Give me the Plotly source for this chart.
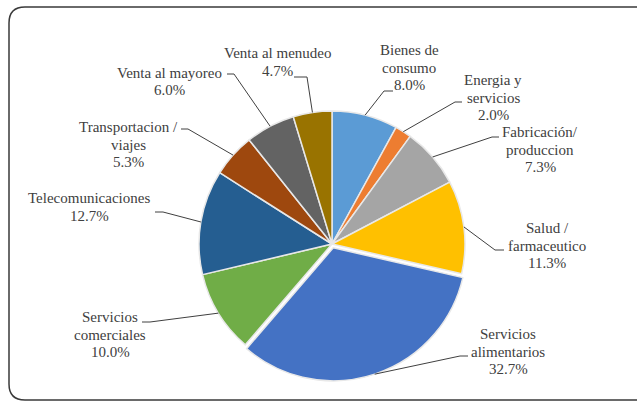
import math
import plotly.graph_objects as go

# ---- data ----
categories = ["Bienes de consumo", "Energia y servicios", "Fabricación/ produccion",
              "Salud / farmaceutico", "Servicios alimentarios", "Servicios comerciales",
              "Telecomunicaciones", "Transportacion / viajes", "Venta al mayoreo",
              "Venta al menudeo"]
values = [8.0, 2.0, 7.3, 11.3, 32.7, 10.0, 12.7, 5.3, 6.0, 4.7]
label_lines = [["Bienes de", "consumo"], ["Energia y", "servicios"], ["Fabricación/", "produccion"],
               ["Salud /", "farmaceutico"], ["Servicios", "alimentarios"], ["Servicios", "comerciales"],
               ["Telecomunicaciones"], ["Transportacion /", "viajes"], ["Venta al mayoreo"],
               ["Venta al menudeo"]]
colors = ["#5B9BD5", "#ED7D31", "#A5A5A5", "#FFC000", "#4472C4", "#70AD47",
          "#255E91", "#9E480E", "#636363", "#997300"]
pulls = [0, 0, 0, 0, 0.03, 0, 0, 0, 0, 0]

# ---- layout (pixels) ----
W, H = 637, 404
CX, CY, R = 332, 244, 133
# text block: (center x, first line center y); leader: (bend point, end point)
text_pos = [(409, 50), (493, 80), (540, 132), (547, 228), (508, 334), (110, 317),
            (89, 198), (128, 127), (169, 73), (277, 53)]
leader = [((384, 91), (393, 91)), ((455, 102), (462, 102)), ((492, 137), (499, 137)),
          ((495, 250), (504, 250)), ((460, 356), (468, 356)), ((150, 322), (142, 322)),
          ((163, 212), (155, 212)), ((188, 129), (181, 129)), ((234, 74), (227, 74)),
          ((307, 77), (294, 77))]
LINE_H = 17.5
FONT = "Times New Roman, Liberation Serif, Noto Serif, DejaVu Serif, serif"
TXT = "#404040"

def px(x):
    return x / W

def py(y):
    return 1 - y / H

maxpull = max(pulls)
Rd = R * (1 + maxpull)

fig = go.Figure(go.Pie(
    labels=categories, values=values, sort=False, direction="clockwise", rotation=0,
    marker=dict(colors=colors, line=dict(color="#e8e8e8", width=1.5)),
    pull=pulls, textinfo="none", hoverinfo="label+percent", showlegend=False,
    domain=dict(x=[px(CX - Rd), px(CX + Rd)], y=[py(CY + Rd), py(CY - Rd)]),
))

annotations = []
shapes = []
total = sum(values)
cum = 0.0
for i, v in enumerate(values):
    mid = (cum + v / 2) / total * 2 * math.pi
    cum += v
    rr = R * (1 + pulls[i])
    ex, ey = CX + rr * math.sin(mid), CY - rr * math.cos(mid)
    (bx, by), (tx, ty) = leader[i]
    shapes.append(dict(type="path", xref="paper", yref="paper",
                       path=f"M {px(ex)},{py(ey)} L {px(bx)},{py(by)} L {px(tx)},{py(ty)}",
                       line=dict(color="#404040", width=1)))
    lines = label_lines[i] + [f"{v:.1f}%"]
    cx, y0 = text_pos[i]
    for j, t in enumerate(lines):
        annotations.append(dict(x=px(cx), y=py(y0 + j * LINE_H), xref="paper", yref="paper",
                                text=t, showarrow=False, xanchor="center", yanchor="middle",
                                font=dict(family=FONT, size=15, color=TXT)))

# rounded border (right edge runs off the image)
L, T, B, RT, rc = 9, 7, 400, 660, 16
border = (f"M {px(L)},{py(T + rc)} Q {px(L)},{py(T)} {px(L + rc)},{py(T)} "
          f"L {px(RT)},{py(T)} L {px(RT)},{py(B)} L {px(L + rc)},{py(B)} "
          f"Q {px(L)},{py(B)} {px(L)},{py(B - rc)} Z")
shapes.insert(0, dict(type="path", xref="paper", yref="paper", path=border,
                      line=dict(color="#3a3a3a", width=1.5), layer="below"))

fig.update_layout(width=W, height=H, margin=dict(l=0, r=0, t=0, b=0),
                  paper_bgcolor="white", plot_bgcolor="white",
                  font=dict(family=FONT, color=TXT),
                  shapes=shapes, annotations=annotations)
fig.write_html("out.html", config={"displayModeBar": False},
               post_script="document.body.style.margin='0';")
